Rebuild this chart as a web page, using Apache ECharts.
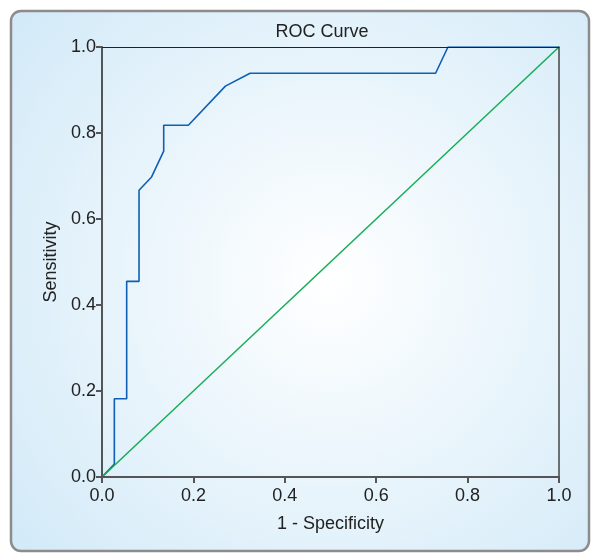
<!DOCTYPE html>
<html>
<head>
<meta charset="utf-8">
<style>
  html, body { margin: 0; padding: 0; background: #fff; }
  #chart { width: 599px; height: 554px; }
</style>
<script src="https://cdn.jsdelivr.net/npm/echarts@6/dist/echarts.min.js"></script>
</head>
<body>
<div id="chart"></div>
<script>
// ROC curve points (1 - specificity, sensitivity)
var fpr = [0, 0.027, 0.027, 0.054, 0.054, 0.081, 0.081, 0.108, 0.135, 0.135, 0.189, 0.270, 0.324, 0.730, 0.757, 1.0];
var tpr = [0, 0.030, 0.182, 0.182, 0.455, 0.455, 0.667, 0.697, 0.758, 0.818, 0.818, 0.909, 0.939, 0.939, 1.0, 1.0];
// reference line
var refX = [0, 1];
var refY = [0, 1];

var chart = echarts.init(document.getElementById('chart'));

var rocData = fpr.map(function (x, i) { return [x, tpr[i]]; });
var refData = refX.map(function (x, i) { return [x, refY[i]]; });

var font = 'Liberation Sans, Arial, sans-serif';
var fmt = function (v) { return v.toFixed(1); };

// top / right frame lines, drawn above the curves
var frameAxis = {
    type: 'value',
    min: 0, max: 1, interval: 0.2,
    z: 10,
    axisLine: { show: true, onZero: false, lineStyle: { color: '#222', width: 1 } },
    axisTick: { show: false },
    axisLabel: { show: false },
    splitLine: { show: false }
};

var option = {
    backgroundColor: '#ffffff',
    animation: false,
    graphic: [{
        type: 'rect',
        z: -10,
        shape: { x: 11, y: 11, width: 578, height: 540, r: 10 },
        style: {
            fill: {
                type: 'radial', x: 0.55, y: 0.5, r: 0.75,
                colorStops: [
                    { offset: 0, color: '#ffffff' },
                    { offset: 1, color: '#d3eaf8' }
                ]
            },
            stroke: '#8c8c8c',
            lineWidth: 2.5
        }
    }],
    title: {
        text: 'ROC Curve',
        left: 317,
        top: 18,
        textAlign: 'center',
        textStyle: { color: '#222', fontWeight: 'normal', fontSize: 18, fontFamily: font }
    },
    grid: {
        left: 102,
        top: 47,
        right: 40,
        bottom: 77
    },
    xAxis: [{
        type: 'value',
        min: 0, max: 1, interval: 0.2,
        z: 10,
        name: '1 - Specificity',
        nameLocation: 'middle',
        nameGap: 38,
        nameTextStyle: { color: '#222', fontSize: 18, fontFamily: font },
        axisLine: { onZero: false, lineStyle: { color: '#555', width: 2 } },
        axisTick: { show: true, length: 6, lineStyle: { color: '#555', width: 2 } },
        axisLabel: { color: '#222', fontSize: 18, fontFamily: font, margin: 10, formatter: fmt },
        splitLine: { show: false }
    }, Object.assign({ position: 'top' }, frameAxis)],
    yAxis: [{
        type: 'value',
        min: 0, max: 1, interval: 0.2,
        z: 10,
        name: 'Sensitivity',
        nameLocation: 'middle',
        nameGap: 42,
        nameTextStyle: { color: '#222', fontSize: 18, fontFamily: font },
        axisLine: { show: true, onZero: false, lineStyle: { color: '#555', width: 2 } },
        axisTick: { show: true, length: 6, lineStyle: { color: '#555', width: 2 } },
        axisLabel: { color: '#222', fontSize: 18, fontFamily: font, margin: 6, formatter: fmt },
        splitLine: { show: false }
    }, Object.assign({ position: 'right' }, frameAxis, {
        axisLine: { show: true, onZero: false, lineStyle: { color: '#444', width: 1.5 } }
    })],
    series: [
        {
            name: 'ROC',
            type: 'line',
            data: rocData,
            symbol: 'none',
            lineStyle: { color: '#0e5fb3', width: 1.6 },
            z: 2
        },
        {
            name: 'Reference',
            type: 'line',
            data: refData,
            symbol: 'none',
            lineStyle: { color: '#16ad55', width: 1.5 },
            z: 3
        }
    ]
};

chart.setOption(option);
</script>
</body>
</html>
